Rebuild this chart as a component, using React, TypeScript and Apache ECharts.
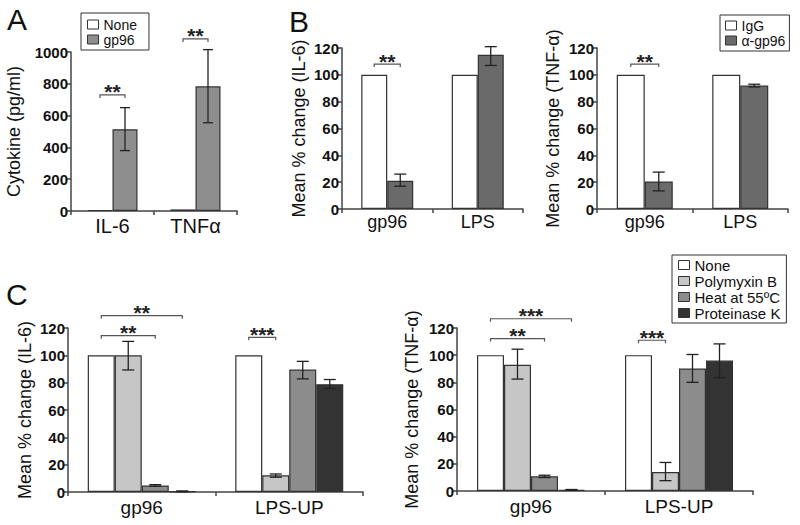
import React, { useEffect, useRef } from "react";
import * as echarts from "echarts";

const FONT = "'Liberation Sans', Arial, Helvetica, sans-serif";

// ---------- Panel A ----------
const aCategories = ["IL-6", "TNFα"];
const aNone = [6, 10];
const aGp96 = [514, 784];
const aGp96Err = [[380, 650], [555, 1015]];
// [category, fromBar, toBar, yLevel, label]
const aSig: any[] = [[0, 0, 1, 730, "**"], [1, 0, 1, 1082, "**"]];

// ---------- Panel B ----------
const bCategories = ["gp96", "LPS"];
const bIl6IgG = [100, 100];
const bIl6Anti = [21, 115];
const bIl6AntiErr = [[17, 26], [107, 121]];
const bTnfIgG = [100, 100];
const bTnfAnti = [20.5, 92];
const bTnfAntiErr = [[13.5, 27.5], [91, 93]];
const bIl6Sig: any[] = [[0, 0, 1, 108, "**"]];
const bTnfSig: any[] = [[0, 0, 1, 108, "**"]];

// ---------- Panel C ----------
const cCategories = ["gp96", "LPS-UP"];
const cIl6None = [100, 100];
const cIl6Poly = [100, 12.2];
const cIl6Heat = [4.8, 89.6];
const cIl6Prot = [0.5, 78.9];
const cIl6PolyErr = [[89.3, 110.2], [10.8, 13.2]];
const cIl6HeatErr = [[4.2, 5.4], [82.8, 95.6]];
const cIl6ProtErr = [[0.2, 0.8], [75.7, 82.3]];
const cIl6Sig: any[] = [[0, 0, 2, 114.4, "**"], [0, 0, 3, 129, "**"], [1, 0, 1, 113.2, "***"]];

const cTnfNone = [100, 100];
const cTnfPoly = [93, 14];
const cTnfHeat = [10.8, 90.2];
const cTnfProt = [0.8, 96];
const cTnfPolyErr = [[82.4, 104.4], [7.6, 21]];
const cTnfHeatErr = [[9.9, 11.6], [80, 100.5]];
const cTnfProtErr = [[0.5, 1.1], [83.4, 108.3]];
const cTnfSig: any[] = [[0, 0, 2, 112.2, "**"], [0, 0, 3, 126.8, "***"], [1, 0, 1, 111, "***"]];

const C_NONE = "#ffffff";
const C_GP96 = "#8e8e8e";
const C_ANTI = "#6a6a6a";
const C_POLY = "#c6c6c6";
const C_HEAT = "#8c8c8c";
const C_PROT = "#333333";
const EDGE = "#333333";
const AXIS = "#444444";

function bar(name: string, g: number, data: number[], color: string, barWidth: number) {
  return {
    type: "bar",
    name,
    xAxisIndex: g,
    yAxisIndex: g,
    data,
    barWidth,
    barGap: "0%",
    silent: true,
    itemStyle: { color, borderColor: EDGE, borderWidth: 1.2 },
  };
}

function err(g: number, n: number, k: number, bw: number, ranges: number[][], cap: number) {
  return {
    type: "custom",
    name: "err",
    xAxisIndex: g,
    yAxisIndex: g,
    silent: true,
    z: 10,
    data: ranges.map((r, i) => [i, r[0], r[1]]),
    encode: { x: 0, y: [1, 2] },
    renderItem: (_p: any, api: any) => {
      const cat = api.value(0);
      const lo = api.coord([cat, api.value(1)]);
      const hi = api.coord([cat, api.value(2)]);
      const x = lo[0] + (k - (n - 1) / 2) * bw;
      const st = { stroke: "#222", lineWidth: 1.3 };
      return {
        type: "group",
        children: [
          { type: "line", shape: { x1: x, y1: lo[1], x2: x, y2: hi[1] }, style: st },
          { type: "line", shape: { x1: x - cap / 2, y1: hi[1], x2: x + cap / 2, y2: hi[1] }, style: st },
          { type: "line", shape: { x1: x - cap / 2, y1: lo[1], x2: x + cap / 2, y2: lo[1] }, style: st },
        ],
      };
    },
  };
}

function sig(g: number, n: number, bw: number, items: any[]) {
  return {
    type: "custom",
    name: "sig",
    xAxisIndex: g,
    yAxisIndex: g,
    silent: true,
    z: 10,
    data: items.map((s) => [s[0], s[3], s[1], s[2]]),
    encode: { x: 0, y: 1 },
    renderItem: (p: any, api: any) => {
      const cat = api.value(0);
      const pt = api.coord([cat, api.value(1)]);
      const off = (k: number) => (k - (n - 1) / 2) * bw;
      const x1 = pt[0] + off(api.value(2));
      const x2 = pt[0] + off(api.value(3));
      const y = pt[1];
      const st = { stroke: "#555", lineWidth: 1.2, fill: "none" };
      return {
        type: "group",
        children: [
          { type: "polyline", shape: { points: [[x1, y + 3], [x1, y], [x2, y], [x2, y + 3]] }, style: st },
          {
            type: "text",
            style: {
              text: items[p.dataIndex][4],
              x: (x1 + x2) / 2,
              y: y - 3,
              align: "center",
              verticalAlign: "middle",
              fill: "#222",
              font: `bold 21px ${FONT}`,
            },
          },
        ],
      };
    },
  };
}

function xAx(g: number, cats: string[], fontSize: number, margin: number) {
  return {
    type: "category",
    gridIndex: g,
    data: cats,
    axisLine: { show: true, lineStyle: { color: AXIS, width: 1.5 } },
    axisTick: { show: true, length: 4, lineStyle: { color: AXIS, width: 1.5 } },
    axisLabel: { color: "#111", fontSize, fontFamily: FONT, margin },
    splitLine: { show: false },
  };
}

function yAx(g: number, max: number, interval: number, name: string, nameGap: number, nameSize: number) {
  return {
    type: "value",
    gridIndex: g,
    min: 0,
    max,
    interval,
    name,
    nameLocation: "middle",
    nameGap,
    nameRotate: 90,
    nameTextStyle: { fontSize: nameSize, color: "#111", fontFamily: FONT },
    axisLine: { show: true, lineStyle: { color: AXIS, width: 1.5 } },
    axisTick: { show: true, length: 4, lineStyle: { color: AXIS, width: 1.5 } },
    axisLabel: {
      color: "#111",
      fontSize: 15,
      fontWeight: "bold",
      fontFamily: FONT,
      margin: 3,
      formatter: (v: number) => String(v),
    },
    splitLine: { show: false },
  };
}

function legend(names: string[], left: number, top: number, fontSize: number, padding: number[], lineHeight: number) {
  return {
    data: names,
    orient: "vertical",
    left,
    top,
    icon: "rect",
    itemWidth: 11,
    itemHeight: 9,
    itemGap: 0,
    padding,
    selectedMode: false,
    backgroundColor: "#fff",
    borderColor: "#333",
    borderWidth: 1,
    borderRadius: 0,
    itemStyle: { borderColor: EDGE, borderWidth: 1 },
    textStyle: { fontSize, fontFamily: FONT, color: "#111", lineHeight },
  };
}

export default function App() {
  const ref = useRef<HTMLDivElement>(null);
  useEffect(() => {
    document.body.style.margin = "0";
    const chart = echarts.init(ref.current!, undefined, { renderer: "svg" });
    const option: any = {
      animation: false,
      backgroundColor: "#fff",
      textStyle: { fontFamily: FONT },
      grid: [
        { left: 71, top: 52, width: 166, height: 159 },
        { left: 342, top: 48, width: 181, height: 161 },
        { left: 597, top: 48, width: 191, height: 161 },
        { left: 68, top: 328, width: 295, height: 164 },
        { left: 457, top: 328, width: 296, height: 163 },
      ],
      xAxis: [
        xAx(0, aCategories, 20, 5),
        xAx(1, bCategories, 18, 4),
        xAx(2, bCategories, 18, 4),
        xAx(3, cCategories, 19, 6),
        xAx(4, cCategories, 19, 6),
      ],
      yAxis: [
        yAx(0, 1000, 200, "Cytokine (pg/ml)", 48, 18),
        yAx(1, 120, 20, "Mean % change (IL-6)", 34, 18),
        yAx(2, 120, 20, "Mean % change (TNF-α)", 35, 18),
        yAx(3, 120, 20, "Mean % change (IL-6)", 34, 18),
        yAx(4, 120, 20, "Mean % change (TNF-α)", 36, 18),
      ],
      legend: [
        legend(["None", "gp96"], 81, 13, 14, [4, 12, 3, 6], 15),
        legend(["IgG", "α-gp96"], 720, 15, 14, [3, 4, 3, 5], 15),
        legend(["None", "Polymyxin B", "Heat at 55ºC", "Proteinase K"], 672, 255, 15, [2, 6, 2, 6], 16),
      ],
      graphic: [
        { type: "text", left: 7, top: 4, style: { text: "A", font: `30px ${FONT}`, fill: "#111" } },
        { type: "text", left: 289, top: 6, style: { text: "B", font: `30px ${FONT}`, fill: "#111" } },
        { type: "text", left: 6, top: 279, style: { text: "C", font: `30px ${FONT}`, fill: "#111" } },
      ],
      series: [
        // A
        bar("None", 0, aNone, C_NONE, 25),
        bar("gp96", 0, aGp96, C_GP96, 25),
        err(0, 2, 1, 25, aGp96Err, 10),
        sig(0, 2, 25, aSig),
        // B left
        bar("IgG", 1, bIl6IgG, C_NONE, 26),
        bar("α-gp96", 1, bIl6Anti, C_ANTI, 26),
        err(1, 2, 1, 26, bIl6AntiErr, 12),
        sig(1, 2, 26, bIl6Sig),
        // B right
        bar("IgG", 2, bTnfIgG, C_NONE, 28),
        bar("α-gp96", 2, bTnfAnti, C_ANTI, 28),
        err(2, 2, 1, 28, bTnfAntiErr, 12),
        sig(2, 2, 28, bTnfSig),
        // C left
        bar("None", 3, cIl6None, C_NONE, 27),
        bar("Polymyxin B", 3, cIl6Poly, C_POLY, 27),
        bar("Heat at 55ºC", 3, cIl6Heat, C_HEAT, 27),
        bar("Proteinase K", 3, cIl6Prot, C_PROT, 27),
        err(3, 4, 1, 27, cIl6PolyErr, 12),
        err(3, 4, 2, 27, cIl6HeatErr, 12),
        err(3, 4, 3, 27, cIl6ProtErr, 12),
        sig(3, 4, 27, cIl6Sig),
        // C right
        bar("None", 4, cTnfNone, C_NONE, 27),
        bar("Polymyxin B", 4, cTnfPoly, C_POLY, 27),
        bar("Heat at 55ºC", 4, cTnfHeat, C_HEAT, 27),
        bar("Proteinase K", 4, cTnfProt, C_PROT, 27),
        err(4, 4, 1, 27, cTnfPolyErr, 12),
        err(4, 4, 2, 27, cTnfHeatErr, 12),
        err(4, 4, 3, 27, cTnfProtErr, 12),
        sig(4, 4, 27, cTnfSig),
      ],
    };
    chart.setOption(option);
    return () => chart.dispose();
  }, []);
  return <div ref={ref} style={{ width: 800, height: 525 }} />;
}
